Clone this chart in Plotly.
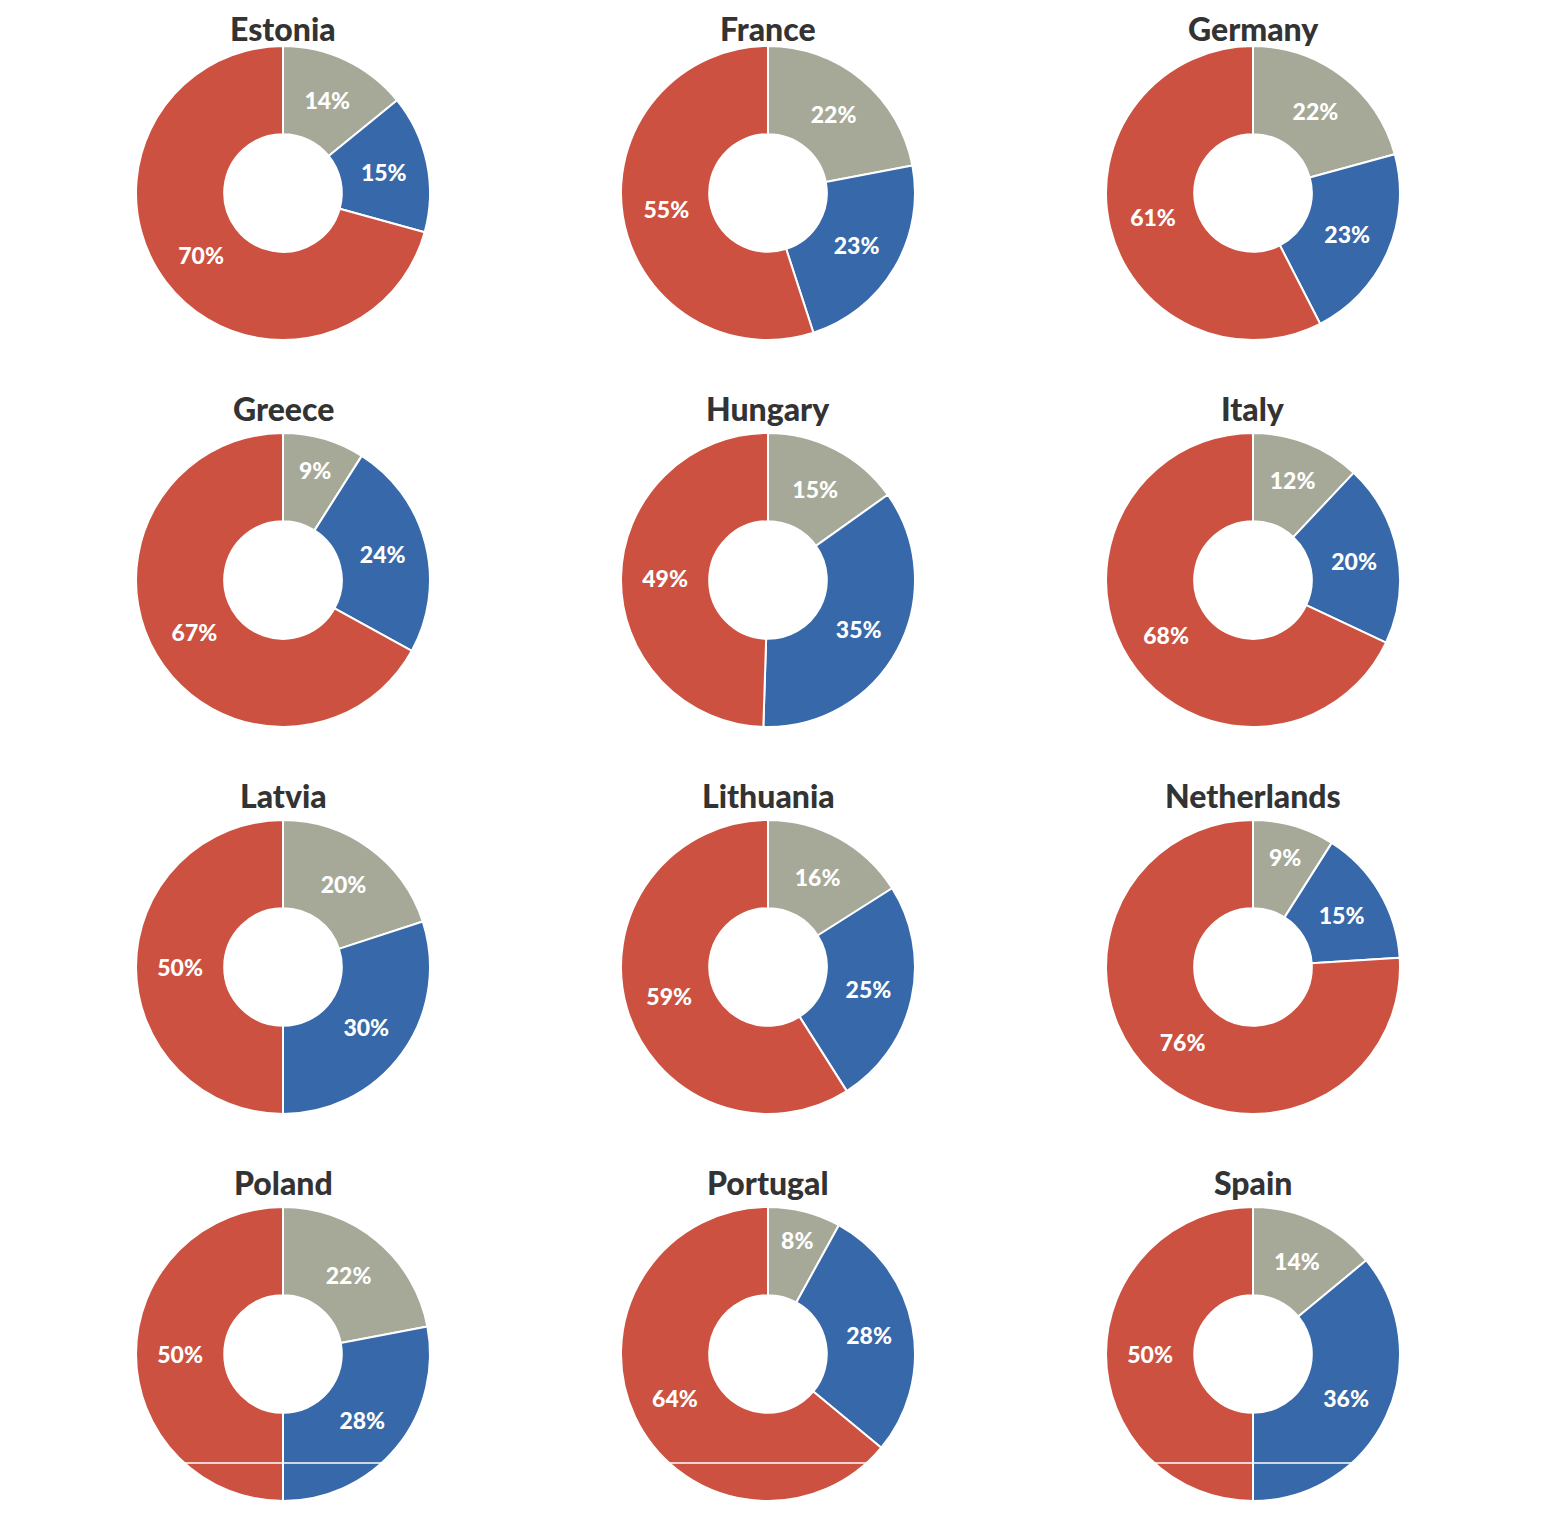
import plotly.graph_objects as go

countries = ["Estonia", "France", "Germany", "Greece", "Hungary", "Italy",
             "Latvia", "Lithuania", "Netherlands", "Poland", "Portugal", "Spain"]
categories = ["Grey", "Blue", "Red"]
grey_vals = [14, 22, 22, 9, 15, 12, 20, 16, 9, 22, 8, 14]
blue_vals = [15, 23, 23, 24, 35, 20, 30, 25, 15, 28, 28, 36]
red_vals = [70, 55, 61, 67, 49, 68, 50, 59, 76, 50, 64, 50]

colors = ["#A6A898", "#3768A9", "#CD5140"]

W, H = 1560, 1513
OFF = 8  # page body margin
col_cx = [283 - OFF, 768 - OFF, 1253 - OFF]
row_cy = [193 - OFF, 580 - OFF, 967 - OFF, 1354 - OFF]
R = 147
title_offset = 172  # pixels above centre

FONT = "Source Sans Pro, Lato, Noto Sans, sans-serif"

fig = go.Figure()
annotations = []
for i, name in enumerate(countries):
    r, c = divmod(i, 3)
    cx, cy = col_cx[c], row_cy[r]
    fig.add_trace(go.Pie(
        labels=categories,
        values=[grey_vals[i], blue_vals[i], red_vals[i]],
        name=name,
        hole=0.4,
        sort=False,
        direction="clockwise",
        rotation=0,
        marker=dict(colors=colors, line=dict(color="white", width=2)),
        texttemplate="%{value}%",
        textposition="inside",
        insidetextorientation="horizontal",
        textfont=dict(family=FONT, size=23, color="white", weight=900),
        hoverinfo="label+value",
        showlegend=False,
        domain=dict(x=[(cx - R) / W, (cx + R) / W],
                    y=[1 - (cy + R) / H, 1 - (cy - R) / H]),
    ))
    ty = max(cy - title_offset, 20)
    annotations.append(dict(
        text=name, x=cx / W, y=1 - ty / H,
        xref="paper", yref="paper", xanchor="center", yanchor="middle",
        showarrow=False,
        font=dict(family=FONT, size=32, color="#333333", weight=900),
    ))

fig.update_layout(
    width=W, height=H,
    margin=dict(l=0, r=0, t=0, b=0),
    paper_bgcolor="white", plot_bgcolor="white",
    annotations=annotations,
    uniformtext=dict(minsize=10, mode="show"),
    shapes=[
        dict(type="line", xref="paper", yref="paper", x0=0, x1=1,
             y0=1 - (1463 - OFF) / H, y1=1 - (1463 - OFF) / H,
             line=dict(color="white", width=1.5), layer="above"),
    ],
)

fig.write_html("out.html")
